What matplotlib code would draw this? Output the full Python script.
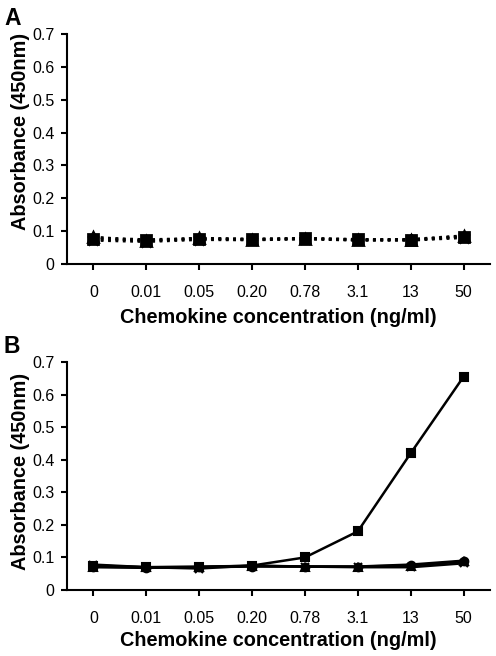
import numpy as np
import matplotlib.pyplot as plt

plt.rcParams['font.family'] = ['Liberation Sans', 'DejaVu Sans']

conc = ['0', '0.01', '0.05', '0.20', '0.78', '3.1', '13', '50']

# panel A (dotted series)
a_sq = [0.075, 0.072, 0.076, 0.075, 0.078, 0.075, 0.074, 0.082]
a_tri = [0.082, 0.070, 0.079, 0.074, 0.077, 0.073, 0.073, 0.085]
a_x = [0.072, 0.068, 0.074, 0.073, 0.076, 0.072, 0.072, 0.080]
a_star = [0.080, 0.074, 0.078, 0.076, 0.078, 0.074, 0.075, 0.086]

# panel B (solid series)
b_sq = [0.075, 0.070, 0.070, 0.075, 0.100, 0.180, 0.420, 0.655]
b_circ = [0.070, 0.068, 0.070, 0.072, 0.072, 0.072, 0.078, 0.090]
b_x = [0.078, 0.070, 0.066, 0.075, 0.072, 0.070, 0.070, 0.082]
b_tri = [0.072, 0.070, 0.072, 0.074, 0.072, 0.072, 0.075, 0.088]

fig = plt.figure(figsize=(4.96, 6.56), dpi=100)
axA = fig.add_axes([0.135, 0.5976, 0.853, 0.3506])
axB = fig.add_axes([0.135, 0.1006, 0.853, 0.3476])

x = np.arange(len(conc))

def style(ax, xpad, ylab_y):
    ax.set_xlim(-0.5, 7.5)
    ax.set_ylim(0, 0.7)
    ax.set_yticks(np.arange(0, 0.71, 0.1))
    ax.set_yticklabels(['0'] + ['%.1f' % v for v in np.arange(0.1, 0.71, 0.1)])
    ax.set_xticks(x)
    ax.set_xticklabels(conc)
    ax.spines['top'].set_visible(False)
    ax.spines['right'].set_visible(False)
    ax.spines['left'].set_linewidth(1.5)
    ax.spines['bottom'].set_linewidth(1.5)
    ax.tick_params(axis='both', labelsize=11.5, width=1.5, length=4, colors='black')
    ax.tick_params(axis='x', pad=11)
    ax.tick_params(axis='y', pad=5)
    ax.set_xlabel('Chemokine concentration (ng/ml)', fontsize=14.3, fontweight='bold', labelpad=xpad)
    ax.set_ylabel('Absorbance (450nm)', fontsize=14.3, fontweight='bold', labelpad=1)
    ax.yaxis.set_label_coords(-0.088, ylab_y)

for ys, m in [(a_x, 'x'), (a_tri, '^'), (a_star, '*'), (a_sq, 's')]:
    axA.plot(x, ys, color='black', linestyle=':', lw=2, marker=m, ms=7, mew=2)
for ys, m in [(b_circ, 'o'), (b_x, 'x'), (b_tri, '^'), (b_sq, 's')]:
    axB.plot(x, ys, color='black', linestyle='-', lw=1.8, marker=m, ms=5.5, mew=1.5)

style(axA, 6, 0.576)
style(axB, 4, 0.518)

fig.text(0.008, 0.989, 'A', fontsize=16.5, fontweight='bold', va='top')
fig.text(0.008, 0.489, 'B', fontsize=16.5, fontweight='bold', va='top')

fig.savefig('out.png', dpi=100)
